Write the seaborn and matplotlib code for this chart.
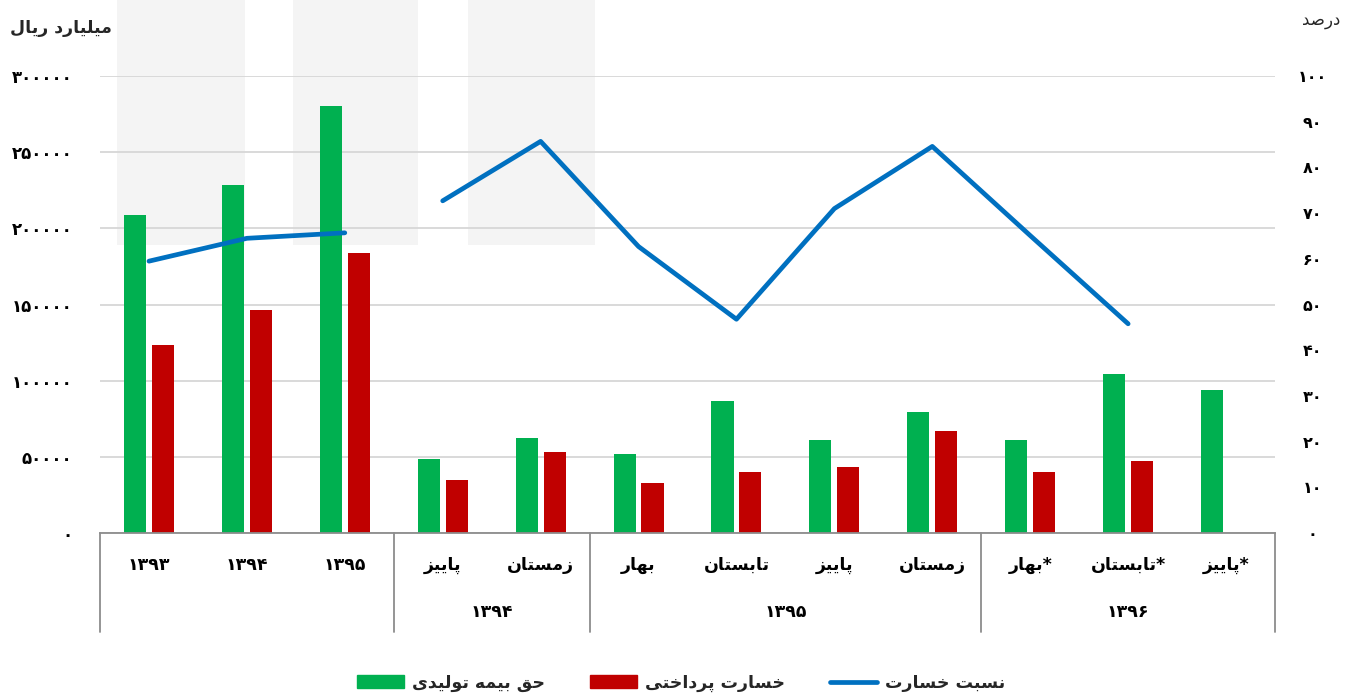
import numpy as np
import pandas as pd
import matplotlib
matplotlib.use("Agg")
import matplotlib.pyplot as plt
import seaborn as sns
from matplotlib.patches import Rectangle, Patch
from matplotlib.lines import Line2D
from matplotlib.ticker import FuncFormatter, MultipleLocator
from matplotlib.transforms import blended_transform_factory

# ---- data -------------------------------------------------------------
categories = ["۱۳۹۳", "۱۳۹۴", "۱۳۹۵", "پاییز", "زمستان", "بهار", "تابستان",
              "پاییز", "زمستان", "*بهار", "*تابستان", "*پاییز"]
periods = ["", "", "", "۱۳۹۴", "۱۳۹۴", "۱۳۹۵", "۱۳۹۵", "۱۳۹۵", "۱۳۹۵",
           "۱۳۹۶", "۱۳۹۶", "۱۳۹۶"]
segments = ["annual"] * 3 + ["quarterly"] * 9
premium = [208700, 228500, 280500, 48700, 62400, 52000, 86800, 61000, 79400,
           61400, 104600, 94100]
claims = [123600, 146600, 184000, 35000, 53300, 32800, 40400, 43300, 67100,
          40200, 47400, np.nan]
loss_ratio = [59.5, 64.5, 65.7, 72.7, 85.7, 62.7, 46.8, 71.0, 84.6, 65.1,
              45.8, np.nan]

label_premium = "حق بیمه تولیدی"
label_claims = "خسارت پرداختی"
label_ratio = "نسبت خسارت"
left_unit = "میلیارد ریال"
right_unit = "درصد"

GREEN, RED, BLUE = "#00b050", "#c00000", "#0070c0"

# ---- minimal Arabic-script shaping (matplotlib has no text shaping) -----
FORMS = {
    "ا": ("\uFE8D", "\uFE8E", None, None),
    "ب": ("\uFE8F", "\uFE90", "\uFE91", "\uFE92"),
    "پ": ("\uFB56", "\uFB57", "\uFB58", "\uFB59"),
    "ت": ("\uFE95", "\uFE96", "\uFE97", "\uFE98"),
    "ح": ("\uFEA1", "\uFEA2", "\uFEA3", "\uFEA4"),
    "خ": ("\uFEA5", "\uFEA6", "\uFEA7", "\uFEA8"),
    "د": ("\uFEA9", "\uFEAA", None, None),
    "ر": ("\uFEAD", "\uFEAE", None, None),
    "ز": ("\uFEAF", "\uFEB0", None, None),
    "س": ("\uFEB1", "\uFEB2", "\uFEB3", "\uFEB4"),
    "ص": ("\uFEB9", "\uFEBA", "\uFEBB", "\uFEBC"),
    "ق": ("\uFED5", "\uFED6", "\uFED7", "\uFED8"),
    "ل": ("\uFEDD", "\uFEDE", "\uFEDF", "\uFEE0"),
    "م": ("\uFEE1", "\uFEE2", "\uFEE3", "\uFEE4"),
    "ن": ("\uFEE5", "\uFEE6", "\uFEE7", "\uFEE8"),
    "ه": ("\uFEE9", "\uFEEA", "\uFEEB", "\uFEEC"),
    "و": ("\uFEED", "\uFEEE", None, None),
    "ی": ("\uFBFC", "\uFBFD", "\uFBFE", "\uFBFF"),
}


def shape(text):
    """Pick contextual letter forms and lay the string out right-to-left."""
    if not any(ch in FORMS for ch in text):
        return text
    out = []
    for i, ch in enumerate(text):
        f = FORMS.get(ch)
        if f is None:
            out.append(ch)
            continue
        prev = text[i - 1] if i > 0 else None
        nxt = text[i + 1] if i + 1 < len(text) else None
        join_prev = prev in FORMS and FORMS[prev][2] is not None
        join_next = f[2] is not None and nxt in FORMS
        if join_prev and join_next:
            out.append(f[3])
        elif join_prev:
            out.append(f[1])
        elif join_next:
            out.append(f[2])
        else:
            out.append(f[0])
    return "".join(reversed(out))


FA_DIGITS = str.maketrans("0123456789", "۰۱۲۳۴۵۶۷۸۹")


def fa_num(v, _pos=None):
    return str(int(round(v))).translate(FA_DIGITS)


# ---- style ------------------------------------------------------------
sns.set_theme(style="white")
plt.rcParams["font.family"] = ["DejaVu Sans"]
plt.rcParams["font.weight"] = "bold"

W, H = 1345, 695
fig = plt.figure(figsize=(W / 100, H / 100), dpi=100)
fig.patch.set_facecolor("white")

# faint background banner, kept beneath everything else
for x0, x1 in [(117, 245), (293, 418), (468, 595)]:
    fig.patches.append(Rectangle((x0 / W, 1 - 245 / H), (x1 - x0) / W, 245 / H,
                                 transform=fig.transFigure, color="#f4f4f4",
                                 zorder=-10, lw=0))

ax_left, ax_right_px, ax_top, ax_bottom = 100, 1275, 76, 533.2
ax = fig.add_axes([ax_left / W, (H - ax_bottom) / H,
                   (ax_right_px - ax_left) / W, (ax_bottom - ax_top) / H])
ax.set_facecolor("none")

pos = list(range(len(categories)))
bars = pd.DataFrame({
    "pos": pos * 2,
    "value": premium + claims,
    "series": [label_premium] * len(pos) + [label_claims] * len(pos),
})
sns.barplot(data=bars, x="pos", y="value", hue="series",
            hue_order=[label_premium, label_claims],
            palette=[GREEN, RED], saturation=1, width=0.57, gap=0.21,
            linewidth=0, legend=False, ax=ax)

ax.set_xlim(-0.5, len(pos) - 0.5)
ax.set_ylim(0, 300000)
ax.yaxis.set_major_locator(MultipleLocator(50000))
ax.yaxis.set_major_formatter(FuncFormatter(fa_num))
ax.yaxis.grid(True, color="#d9d9d9", lw=1.4)
ax.set_axisbelow(True)
ax.set_xlabel("")
ax.set_ylabel("")
ax.set_xticks([])
for s in ["top", "left", "right"]:
    ax.spines[s].set_visible(False)
ax.spines["bottom"].set_color("#8c8c8c")
ax.spines["bottom"].set_linewidth(1.3)
ax.tick_params(axis="y", length=0, pad=20, labelsize=12, colors="black")

# secondary axis: loss ratio line
ax2 = ax.twinx()
ratio = pd.DataFrame({"pos": pos, "ratio": loss_ratio, "segment": segments})
sns.lineplot(data=ratio, x="pos", y="ratio", units="segment", estimator=None,
             color=BLUE, lw=3.4, solid_capstyle="round", legend=False, ax=ax2)
ax2.set_ylim(0, 100)
ax2.set_xlim(-0.5, len(pos) - 0.5)
ax2.yaxis.set_major_locator(MultipleLocator(10))
ax2.yaxis.set_major_formatter(FuncFormatter(fa_num))
ax2.set_xlabel("")
ax2.set_ylabel("")
ax2.grid(False)
for s in ax2.spines.values():
    s.set_visible(False)
ax2.tick_params(axis="y", length=0, pad=27, labelsize=11.5, colors="black")
for t in ax2.get_yticklabels():
    t.set_horizontalalignment("center")

# two-level category axis
trans = blended_transform_factory(ax.transData, ax.transAxes)
axh = ax_bottom - ax_top
row1 = -(565 - ax_bottom) / axh
row2 = -(612 - ax_bottom) / axh
sep_end = -(632 - ax_bottom) / axh
for i, c in enumerate(categories):
    ax.text(i, row1, shape(c), transform=trans, ha="center", va="center",
            fontsize=12.5, fontweight="bold", color="black")

bounds = [-0.5]
for i in range(1, len(periods)):
    if periods[i] != periods[i - 1]:
        bounds.append(i - 0.5)
bounds.append(len(periods) - 0.5)
for b in bounds:
    ax.plot([b, b], [0, sep_end], transform=trans, color="#8c8c8c", lw=1.3,
            clip_on=False)
for a, b in zip(bounds[:-1], bounds[1:]):
    name = periods[int(a + 0.5)]
    if name:
        ax.text((a + b) / 2, row2, name, transform=trans, ha="center",
                va="center", fontsize=12.5, fontweight="bold", color="black")

# axis units
fig.text(112 / W, 1 - 28 / H, shape(left_unit), ha="right", va="center",
         fontsize=12.5, fontweight="bold")
fig.text(1340 / W, 1 - 20 / H, shape(right_unit), ha="right", va="center",
         fontsize=12, fontweight="normal")

# legend
handles = [Patch(color=GREEN), Patch(color=RED),
           Line2D([], [], color=BLUE, lw=3.4, solid_capstyle="round")]
fig.legend(handles, [shape(label_premium), shape(label_claims), shape(label_ratio)],
           loc="center", bbox_to_anchor=(681 / W, 1 - 683 / H), ncol=3,
           frameon=False, handlelength=2.7, handleheight=0.8,
           handletextpad=0.45, columnspacing=2.6,
           prop={"weight": "bold", "size": 12.5})

fig.savefig("out.png", dpi=100)
